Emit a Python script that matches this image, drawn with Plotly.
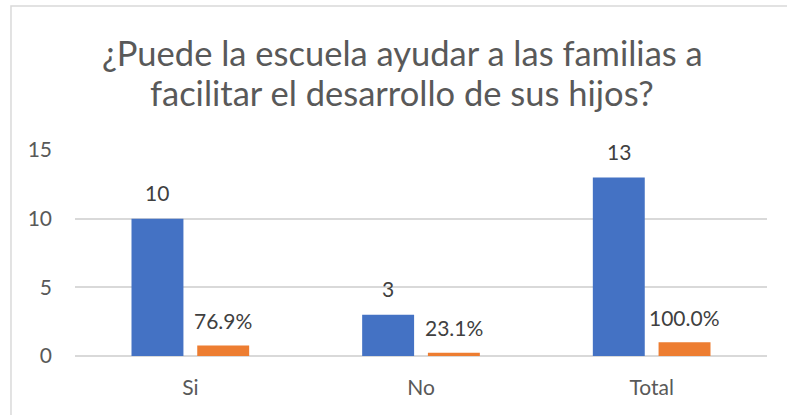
import plotly.graph_objects as go

categories = ["Si", "No", "Total"]
counts = [10, 3, 13]
shares = [0.769, 0.231, 1.0]
count_labels = ["10", "3", "13"]
share_labels = ["76.9%", "23.1%", "100.0%"]
y_ticks = [0, 5, 10, 15]

title_lines = ["¿Puede la escuela ayudar a las familias a",
               "facilitar el desarrollo de sus hijos?"]

FONT = "Lato"
BLUE = "#4472C4"
ORANGE = "#ED7D31"
TXT = "#595959"
LBL = "#404040"
GRID = "#D9D9D9"
FS = 21

fig = go.Figure()
fig.add_trace(go.Bar(x=categories, y=counts, marker=dict(color=BLUE, line=dict(width=0)),
                     name="Cantidad", hoverinfo="skip"))
fig.add_trace(go.Bar(x=categories, y=shares, marker=dict(color=ORANGE, line=dict(width=0)),
                     name="Porcentaje", hoverinfo="skip"))

annotations = []
for c, v, t in zip(categories, counts, count_labels):
    annotations.append(dict(x=c, y=v, xref="x", yref="y", text=t, showarrow=False,
                            xshift=-33, yshift=26, yanchor="middle",
                            font=dict(family=FONT, size=FS, color=LBL)))
for c, v, t in zip(categories, shares, share_labels):
    annotations.append(dict(x=c, y=v, xref="x", yref="y", text=t, showarrow=False,
                            xshift=33, yshift=25, yanchor="middle",
                            font=dict(family=FONT, size=FS, color=LBL)))
for line, ty in zip(title_lines, [1.474, 1.277]):
    annotations.append(dict(x=0.473, y=ty, xref="paper", yref="paper", text=line,
                            showarrow=False, xanchor="center", yanchor="middle",
                            font=dict(family=FONT, size=34.5, color=TXT)))

fig.update_layout(
    width=787, height=415,
    margin=dict(l=75, r=20, t=150, b=59),
    paper_bgcolor="white", plot_bgcolor="white",
    showlegend=False,
    barmode="group", bargap=0.43, bargroupgap=0.21,
    xaxis=dict(showgrid=False, showline=False, ticks="", ticklabelstandoff=17,
               tickfont=dict(family=FONT, size=FS, color=TXT)),
    yaxis=dict(range=[0, 15], tickvals=y_ticks, showgrid=True, gridcolor=GRID, gridwidth=1.5,
               zeroline=True, zerolinecolor=GRID, zerolinewidth=1.5, showline=False,
               ticks="", ticklabelstandoff=22,
               tickfont=dict(family=FONT, size=FS, color=TXT)),
    annotations=annotations,
    shapes=[dict(type="rect", xref="paper", yref="paper", x0=-0.0925, x1=1.2,
                 y0=-0.5, y1=1.699, line=dict(color=GRID, width=1.5), layer="below")],
)

fig.write_html("out.html", config={"displayModeBar": False},
               post_script="document.body.style.margin='0';document.body.style.overflow='hidden';")
